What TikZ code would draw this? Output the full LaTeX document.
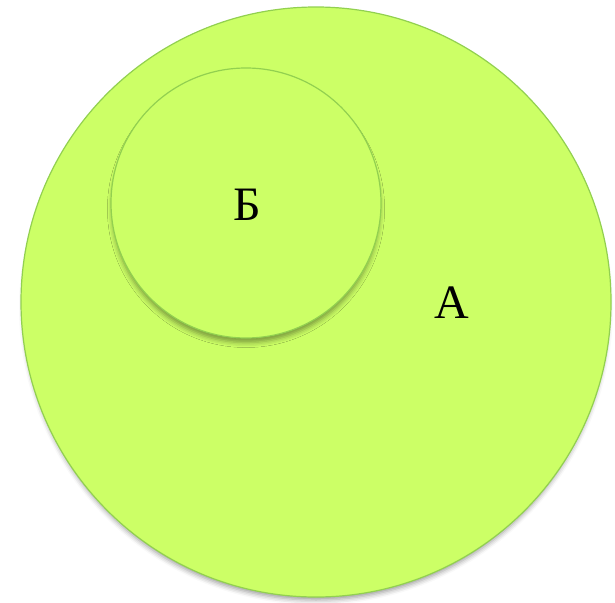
\documentclass[tikz,border=0pt]{standalone}
\usepackage{fontspec}
\setmainfont{Liberation Serif}
\usetikzlibrary{shadows.blur}
\definecolor{vfill}{HTML}{CCFF66}
\definecolor{vline}{HTML}{92D050}
\tikzset{
  venn/.style={fill=vfill, draw=vline, line width=1.2pt,
    blur shadow={shadow xshift=0pt, shadow yshift=-6pt, shadow blur radius=5pt, shadow opacity=40, shadow scale=0.99}},
  lbl/.style={font=\fontsize{48}{48}\selectfont, text=black, inner sep=0pt}
}
\begin{document}
\begin{tikzpicture}[x=1pt,y=-1pt]
\useasboundingbox (0,0) rectangle (615,602);
\node[venn, circle, minimum size=590pt, inner sep=0pt] (A) at (316,302) {};
\node[venn, circle, minimum size=270pt, inner sep=0pt] (B) at (246,203) {};
\node[lbl] (la) at (452,303) {А};
\node[lbl] (lb) at (247,205) {Б};
\end{tikzpicture}
\end{document}
